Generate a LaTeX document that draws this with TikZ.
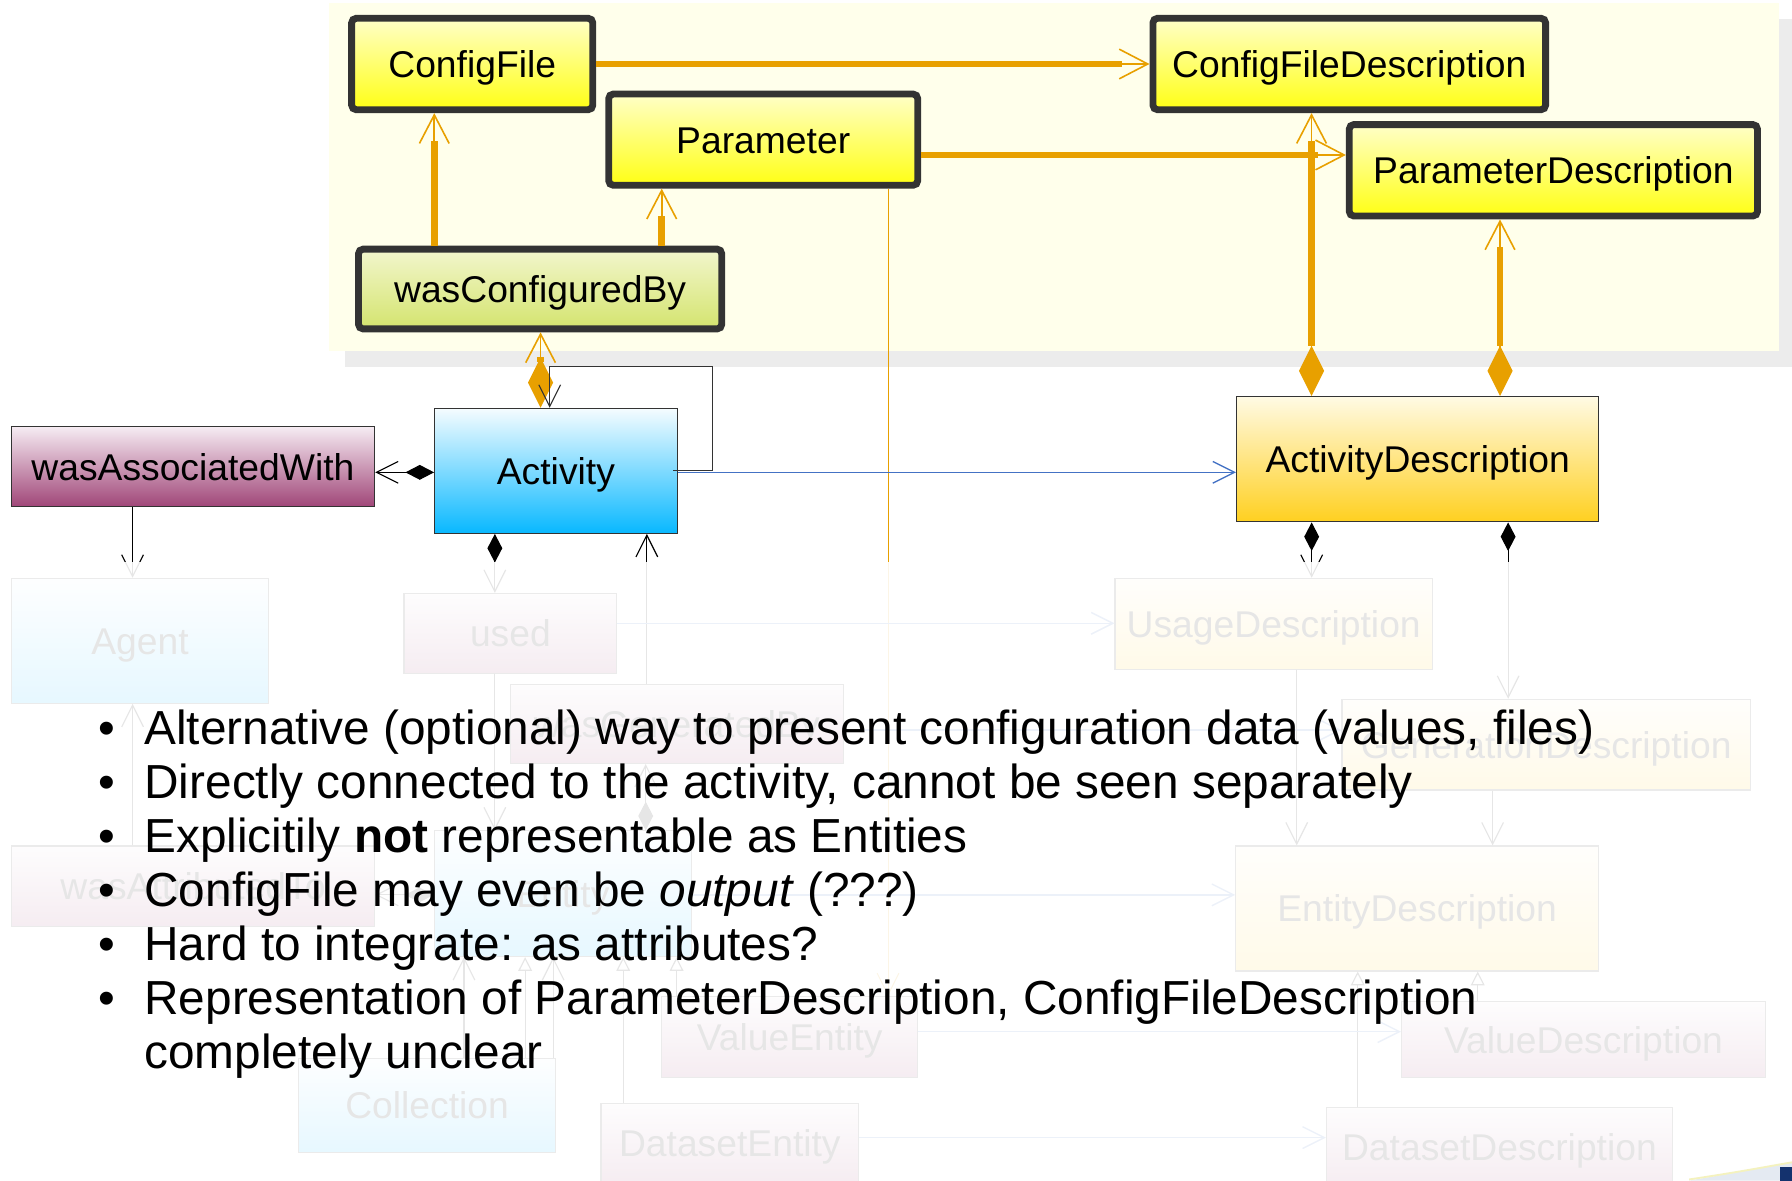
\documentclass[tikz,border=0pt]{standalone}
\usepackage{fontspec}
\setmainfont{Liberation Sans}
\usetikzlibrary{arrows.meta}
\definecolor{cfgorange}{RGB}{232,160,0}
\definecolor{boxborder}{RGB}{51,51,51}
\definecolor{panelyellow}{RGB}{255,255,235}
\definecolor{panelshadow}{RGB}{236,236,236}
\definecolor{linkblue}{RGB}{68,114,196}
\definecolor{actTop}{RGB}{245,252,255}
\definecolor{actBottom}{RGB}{8,184,255}
\definecolor{relTop}{RGB}{246,236,243}
\definecolor{relBottom}{RGB}{160,70,120}
\definecolor{descTop}{RGB}{255,250,228}
\definecolor{descBottom}{RGB}{255,208,32}
\definecolor{cfgTop}{RGB}{255,255,200}
\definecolor{cfgBottom}{RGB}{255,255,20}
\definecolor{wcbTop}{RGB}{242,246,205}
\definecolor{wcbBottom}{RGB}{212,228,110}
\definecolor{swooshgray}{RGB}{228,234,242}
\definecolor{swooshyellow}{RGB}{244,242,190}
\definecolor{swooshnavy}{RGB}{20,50,110}

\begin{document}
\begin{tikzpicture}[x=0.5pt, y=-0.5pt,
  every node/.style={font=\fontsize{16.3}{19.6}\selectfont, inner sep=0pt, text height=11.7pt, text depth=0pt},
  cfgbox/.style={draw=boxborder, line width=3pt, rounded corners=2pt, top color=cfgTop, bottom color=cfgBottom},
  cfgrel/.style={draw=boxborder, line width=3pt, rounded corners=2pt, top color=wcbTop, bottom color=wcbBottom},
  actbox/.style={draw=boxborder, line width=0.5pt, top color=actTop, bottom color=actBottom},
  relbox/.style={draw=boxborder, line width=0.5pt, top color=relTop, bottom color=relBottom},
  descbox/.style={draw=boxborder, line width=0.5pt, top color=descTop, bottom color=descBottom},
  cfgthin/.style={draw=cfgorange, line width=0.7pt, -{Straight Barb[length=12.5pt,width=13pt]}},
  cfgthick/.style={draw=cfgorange, line width=3pt, shorten >=12pt},
  cfgcomp/.style={draw=cfgorange, line width=0.7pt, {Diamond[length=22pt,width=11pt]}-{Straight Barb[length=12.5pt,width=13pt]}},
  cfgdep/.style={draw=cfgorange, line width=0.4pt, -{Straight Barb[length=9.5pt,width=9.5pt]}},
  assoc/.style={draw=black, line width=0.5pt, -{Straight Barb[length=9.5pt,width=9.5pt]}},
  comp/.style={draw=black, line width=0.5pt, {Diamond[length=12.5pt,width=6.5pt]}-{Straight Barb[length=9.5pt,width=9.5pt]}},
  desclink/.style={draw=linkblue, line width=0.6pt, -{Straight Barb[length=9.5pt,width=9.5pt]}},
  isa/.style={draw=black, line width=0.5pt, -{Triangle[open,length=6pt,width=6pt]}},
  bullettext/.style={font=\fontsize{20.9}{25}\selectfont, anchor=base west}]
\useasboundingbox (0,0) rectangle (1568,1033);

% Configuration panel
\fill[panelshadow] (302,17) rectangle (1568,321);
\fill[panelyellow] (288,3) rectangle (1557,307);

\node[cfgbox, minimum width=105.5pt, minimum height=40pt] (cfgfile) at (413.2,56) {ConfigFile};
\node[cfgbox, minimum width=135.2pt, minimum height=39.9pt] (param) at (667.8,122.2) {Parameter};
\node[cfgrel, minimum width=158.9pt, minimum height=34.9pt] (wasconf) at (472.6,252.9) {wasConfiguredBy};
\node[cfgbox, minimum width=171.8pt, minimum height=40pt] (cfgdesc) at (1180.6,56) {ConfigFileDescription};
\node[cfgbox, minimum width=178.6pt, minimum height=40pt] (pardesc) at (1359.2,149) {ParameterDescription};

% Provenance model
\node[actbox, minimum width=106.1pt, minimum height=54.7pt] (activity) at (486.4,412) {Activity};
\node[relbox, minimum width=159pt, minimum height=35pt] (wasassoc) at (168.8,408.3) {wasAssociatedWith};
\node[descbox, minimum width=158.5pt, minimum height=54.8pt] (actdesc) at (1240.5,401.8) {ActivityDescription};
\node[actbox, minimum width=112.6pt, minimum height=54.7pt] (agent) at (122.5,560.7) {Agent};
\node[relbox, minimum width=93.1pt, minimum height=35pt] (used) at (446.6,554.2) {used};
\node[relbox, minimum width=145.6pt, minimum height=34.6pt] (wasgen) at (592.2,633.4) {wasGeneratedBy};
\node[actbox, minimum width=112.5pt, minimum height=55pt] (entity) at (492.5,782) {Entity};
\node[relbox, minimum width=159pt, minimum height=35.3pt] (wasattr) at (168.9,775.5) {wasAttributedTo};
\node[actbox, minimum width=112.4pt, minimum height=41.3pt] (collection) at (373.7,967.3) {Collection};
\node[relbox, minimum width=112pt, minimum height=35.3pt] (valent) at (691,907.3) {ValueEntity};
\node[relbox, minimum width=112.7pt, minimum height=35pt] (dataent) at (638.6,1000.4) {DatasetEntity};
\node[descbox, minimum width=138.9pt, minimum height=39.8pt] (usagedesc) at (1114.5,545.8) {UsageDescription};
\node[descbox, minimum width=178.7pt, minimum height=39.7pt] (gendesc) at (1352.9,651.6) {GenerationDescription};
\node[descbox, minimum width=158.8pt, minimum height=54.7pt] (entdesc) at (1240,794.9) {EntityDescription};
\node[relbox, minimum width=159.3pt, minimum height=33.3pt] (valdesc) at (1385.6,909.8) {ValueDescription};
\node[relbox, minimum width=151.4pt, minimum height=35pt] (datadesc) at (1312,1003.9) {DatasetDescription};

% configuration links
\draw[cfgthin] (cfgfile) -- (cfgdesc);
\draw[cfgthick] (cfgfile) -- (cfgdesc);
\draw[cfgthin] (param.east |- 0,135.6) -- (pardesc.west |- 0,135.6);
\draw[cfgthick] (param.east |- 0,135.6) -- (pardesc.west |- 0,135.6);
\draw[cfgthin] (wasconf.north -| 380,0) -- (cfgfile.south -| 380,0);
\draw[cfgthick] (wasconf.north -| 380,0) -- (cfgfile.south -| 380,0);
\draw[cfgthin] (wasconf.north -| 579,0) -- (param.south -| 579,0);
\draw[cfgthick] (wasconf.north -| 579,0) -- (param.south -| 579,0);
\draw[cfgcomp] (actdesc.north -| 1147.6,0) -- (cfgdesc.south -| 1147.6,0);
\draw[cfgthick, shorten <=22pt] (actdesc.north -| 1147.6,0) -- (cfgdesc.south -| 1147.6,0);
\draw[cfgcomp] (actdesc.north -| 1312.5,0) -- (pardesc.south -| 1312.5,0);
\draw[cfgthick, shorten <=22pt] (actdesc.north -| 1312.5,0) -- (pardesc.south -| 1312.5,0);
\draw[cfgcomp] (activity.north -| 473,0) -- (wasconf.south -| 473,0);
\draw[cfgthick, shorten <=20pt, shorten >=11pt] (activity.north -| 473,0) -- (wasconf.south -| 473,0);
\draw[cfgdep] (param.south -| 777,0) -- (valent.north -| 777,0);

% activity links
\draw[assoc, draw=black!80] ([xshift=-2pt]activity.east |- 0,411.8) -| (623.5,320.8) -| (activity.north -| 481,0);
\draw[desclink] (activity.east |- 0,413.3) -- (actdesc.west |- 0,413.3);
\draw[comp] (activity.west |- 0,413.3) -- (wasassoc.east |- 0,413.3);
\draw[assoc] (wasassoc.south -| 116,0) -- (agent.north -| 116,0);
\draw[comp] (activity.south -| 433,0) -- (used.north -| 433,0);
\draw[assoc] (wasgen.north -| 566,0) -- (activity.south -| 566,0);
\draw[desclink] (used.east |- 0,545.4) -- (usagedesc.west |- 0,545.4);
\draw[assoc] (used.south -| 433,0) -- (entity.north -| 433,0);
\draw[comp] (entity.north -| 565,0) -- (wasgen.south -| 565,0);
\draw[assoc] (wasattr.north -| 116,0) -- (agent.south -| 116,0);
\draw[comp] (entity.west |- 0,783) -- (wasattr.east |- 0,783);
\draw[assoc] (collection.north -| 406,0) -- (entity.south -| 406,0);
\draw[isa] (collection.north -| 459.5,0) -- (entity.south -| 459.5,0);
\draw[assoc] (collection.north -| 484,0) -- (entity.south -| 484,0);
\draw[isa] (dataent.north -| 545.3,0) -- (entity.south -| 545.3,0);
\draw[isa] (valent.north -| 592,0) -- (entity.south -| 592,0);

% description links
\draw[comp] (actdesc.south -| 1147.7,0) -- (usagedesc.north -| 1147.7,0);
\draw[comp] (actdesc.south -| 1319.6,0) -- (gendesc.north -| 1319.6,0);
\draw[desclink] (wasgen.east |- 0,638.8) -- (gendesc.west |- 0,638.8);
\draw[desclink] (entity.east |- 0,783) -- (entdesc.west |- 0,783);
\draw[assoc] (usagedesc.south -| 1134.6,0) -- (entdesc.north -| 1134.6,0);
\draw[assoc] (gendesc.south -| 1306,0) -- (entdesc.north -| 1306,0);
\draw[isa] (valdesc.north -| 1293,0) -- (entdesc.south -| 1293,0);
\draw[isa] (datadesc.north -| 1188,0) -- (entdesc.south -| 1188,0);
\draw[desclink] (valent.east |- 0,902.7) -- (valdesc.west |- 0,902.7);
\draw[desclink] (dataent.east |- 0,995.4) -- (datadesc.west |- 0,995.4);

% faded lower part
\fill[white, fill opacity=0.9] (0,492) rectangle (1568,1033);

\node[bullettext] (b1) at (85.7,651) {\makebox[20.15pt][l]{\textbullet}Alternative (optional) way to present configuration data (values, files)};
\node[bullettext] (b2) at (85.7,698.3) {\makebox[20.15pt][l]{\textbullet}Directly connected to the activity, cannot be seen separately};
\node[bullettext] (b3) at (85.7,745.6) {\makebox[20.15pt][l]{\textbullet}Explicitily \textbf{not} representable as Entities};
\node[bullettext] (b4) at (85.7,792.9) {\makebox[20.15pt][l]{\textbullet}ConfigFile may even be \textit{output} (???)};
\node[bullettext] (b5) at (85.7,840.2) {\makebox[20.15pt][l]{\textbullet}Hard to integrate: as attributes?};
\node[bullettext] (b6) at (85.7,887.5) {\makebox[20.15pt][l]{\textbullet}Representation of ParameterDescription, ConfigFileDescription};
\node[bullettext] (b7) at (126,934.8) {completely unclear};

% slide corner
\fill[swooshgray] (1478,1033) .. controls (1525,1025) and (1550,1020) .. (1568,1017) -- (1568,1033) -- cycle;
\draw[swooshyellow, line width=0.8pt] (1478,1032) .. controls (1525,1025) and (1550,1020) .. (1568,1017);
\fill[swooshnavy] (1557.5,1021) rectangle (1568,1033);
\end{tikzpicture}
\end{document}
